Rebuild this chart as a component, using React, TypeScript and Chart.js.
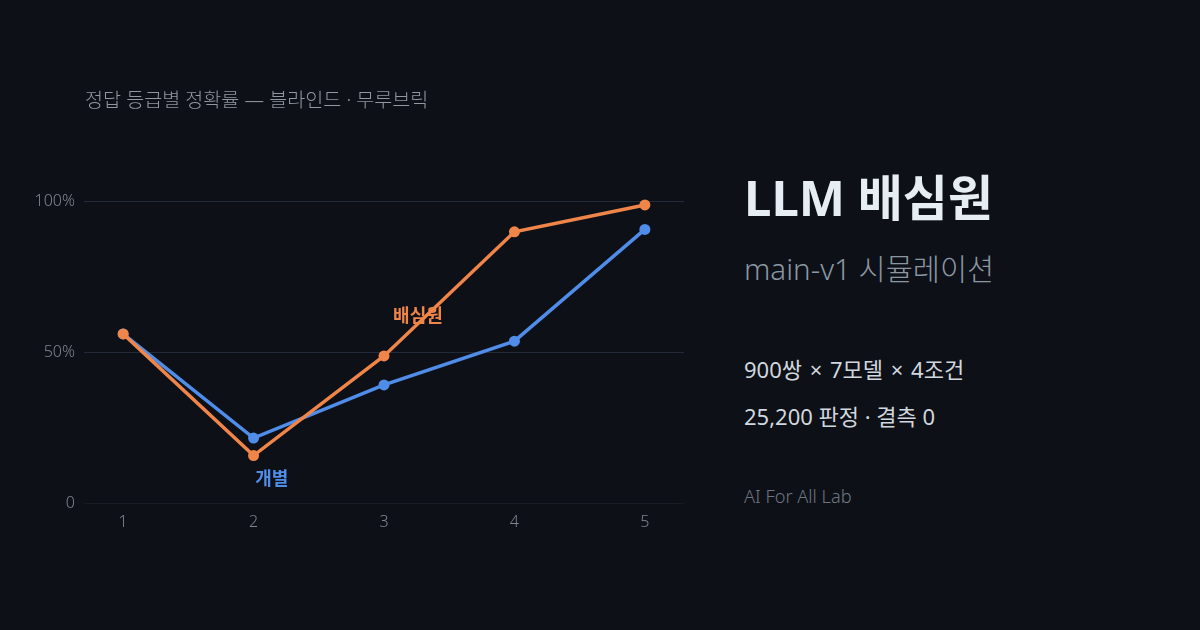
import React, { useEffect, useRef } from 'react'
import { Chart, registerables } from 'chart.js'

Chart.register(...registerables)

const grades = [1, 2, 3, 4, 5]
const juryAcc = [56.0, 15.7, 48.7, 89.8, 98.7]
const indivAcc = [56.0, 21.5, 39.1, 53.6, 90.6]
const yTicks = [0, 50, 100]
const seriesLabels = ['배심원', '개별']
// where the in-chart series labels sit, in data units
const labelX = [3.26, 2.14]
const labelY = [61.6, 7.6]

const BG = '#0d1017'
const ORANGE = '#f0854a'
const BLUE = '#4f8de8'
const FONT = '"Noto Sans", "Noto Sans CJK KR", sans-serif'

const seriesLabelPlugin = {
    id: 'seriesLabels',
    afterDatasetsDraw(chart: any) {
        const { ctx, scales } = chart
        const colors = [ORANGE, BLUE]
        ctx.save()
        ctx.font = `bold 18px ${FONT}`
        ctx.textAlign = 'center'
        ctx.textBaseline = 'middle'
        seriesLabels.forEach((t, i) => {
            ctx.fillStyle = colors[i]
            ctx.fillText(t, scales.x.getPixelForValue(labelX[i]), scales.y.getPixelForValue(labelY[i]))
        })
        ctx.restore()
    }
}

const AccuracyChart: React.FC = () => {
    const chartRef = useRef<HTMLCanvasElement>(null)
    const chartInstance = useRef<Chart | null>(null)

    useEffect(() => {
        if (!chartRef.current) return
        const ctx = chartRef.current.getContext('2d')
        if (!ctx) return
        if (chartInstance.current) chartInstance.current.destroy()

        const toPoints = (vals: number[]) => grades.map((g, i) => ({ x: g, y: vals[i] }))

        chartInstance.current = new Chart(ctx, {
            type: 'line',
            data: {
                datasets: [
                    {
                        label: seriesLabels[0],
                        data: toPoints(juryAcc),
                        borderColor: ORANGE,
                        backgroundColor: ORANGE,
                        borderWidth: 3.5,
                        pointRadius: 5.5,
                        pointBorderWidth: 0,
                        tension: 0,
                        clip: false
                    },
                    {
                        label: seriesLabels[1],
                        data: toPoints(indivAcc),
                        borderColor: BLUE,
                        backgroundColor: BLUE,
                        borderWidth: 3.5,
                        pointRadius: 5.5,
                        pointBorderWidth: 0,
                        tension: 0,
                        clip: false
                    }
                ]
            },
            options: {
                responsive: false,
                animation: false,
                layout: { padding: { left: 0, right: 16, top: 201, bottom: 87 } },
                plugins: {
                    legend: { display: false },
                    title: { display: false },
                    tooltip: { enabled: false }
                },
                scales: {
                    x: {
                        type: 'linear',
                        min: 0.7,
                        max: 5.3,
                        afterBuildTicks: (scale: any) => {
                            scale.ticks = grades.map(v => ({ value: v }))
                        },
                        afterFit: (scale: any) => { scale.height = 40 },
                        grid: { display: false },
                        border: { display: false },
                        ticks: {
                            color: '#7d8590',
                            font: { family: FONT, size: 16, weight: '300' },
                            padding: 2
                        }
                    },
                    y: {
                        min: 0,
                        max: 100,
                        afterBuildTicks: (scale: any) => {
                            scale.ticks = yTicks.map(v => ({ value: v }))
                        },
                        afterFit: (scale: any) => { scale.width = 84 },
                        border: { display: false },
                        grid: {
                            drawTicks: false,
                            lineWidth: 1,
                            color: (c: any) => (c.tick && c.tick.value === 0 ? '#161b24' : '#232a37')
                        },
                        ticks: {
                            color: '#7d8590',
                            font: { family: FONT, size: 16, weight: '300' },
                            padding: 9,
                            callback: (v: any) => (v === 0 ? '0' : `${v}%`)
                        }
                    }
                }
            },
            plugins: [seriesLabelPlugin]
        } as any)

        return () => {
            if (chartInstance.current) {
                chartInstance.current.destroy()
                chartInstance.current = null
            }
        }
    }, [])

    return <canvas ref={chartRef} width={700} height={630} style={{ position: 'absolute', left: 0, top: 0, width: 700, height: 630 }} />
}

const text = (left: number, top: number, size: number, color: string, weight: number) => ({
    position: 'absolute' as const,
    left,
    top,
    fontSize: size,
    color,
    fontWeight: weight,
    whiteSpace: 'nowrap' as const,
    lineHeight: 1.3
})

const App: React.FC = () => {
    useEffect(() => {
        document.body.style.margin = '0'
        document.body.style.background = BG
    }, [])

    return (
        <div style={{ position: 'relative', width: 1200, height: 630, background: BG, overflow: 'hidden', fontFamily: FONT }}>
            <AccuracyChart />
            <div style={text(85, 87, 19.6, '#9198a1', 300)}>정답 등급별 정확률 — 블라인드 · 무루브릭</div>
            <div style={text(744, 166, 49, '#e6edf3', 700)}>LLM 배심원</div>
            <div style={text(744, 250, 29.5, '#8b96a3', 300)}>main-v1 시뮬레이션</div>
            <div style={{ ...text(744, 355, 22, '#d1d7de', 400), wordSpacing: 2 }}>900쌍 × 7모델 × 4조건</div>
            <div style={text(744, 402, 22, '#d1d7de', 400)}>25,200 판정 · 결측 0</div>
            <div style={text(744, 485, 18.2, '#6e7681', 300)}>AI For All Lab</div>
        </div>
    )
}

export default App
